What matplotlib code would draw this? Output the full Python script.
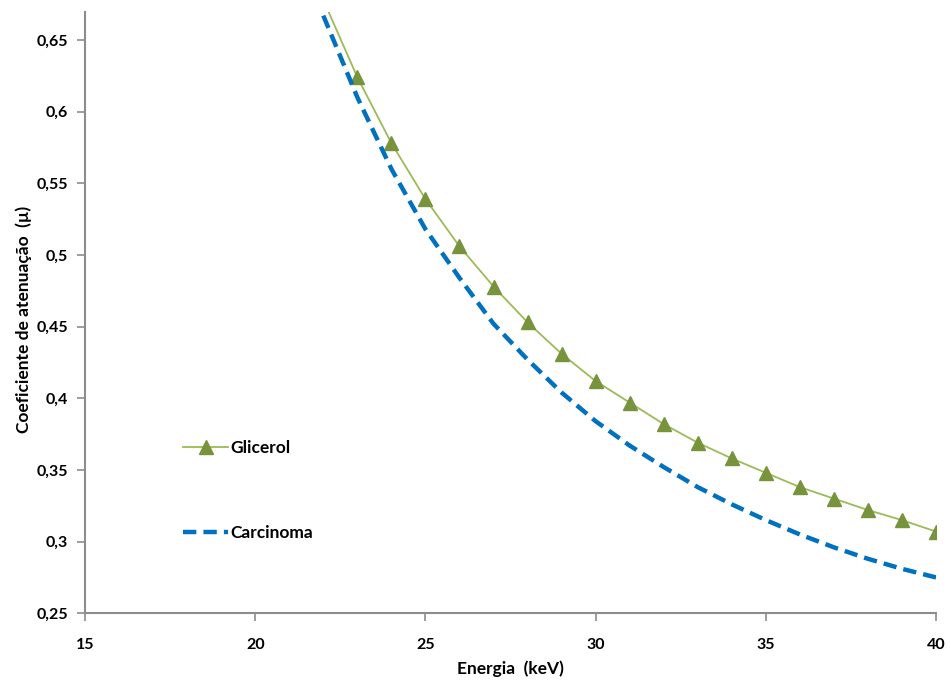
import matplotlib
matplotlib.use("Agg")
import matplotlib.pyplot as plt
from matplotlib.ticker import FuncFormatter

plt.rcParams['font.family'] = ['Lato', 'DejaVu Sans']

# dados
energia_gli = [22, 23, 24, 25, 26, 27, 28, 29, 30, 31, 32, 33, 34, 35, 36, 37, 38, 39, 40]
glicerol = [0.678, 0.624, 0.578, 0.539, 0.506, 0.478, 0.453, 0.431, 0.412, 0.397, 0.382,
            0.369, 0.358, 0.348, 0.338, 0.330, 0.322, 0.315, 0.307]
energia_car = [22, 23, 24, 25, 26, 27, 28, 29, 30, 31, 32, 33, 34, 35, 36, 37, 38, 39, 40]
carcinoma = [0.667, 0.610, 0.560, 0.518, 0.484, 0.452, 0.427, 0.404, 0.384, 0.367, 0.352,
             0.338, 0.326, 0.315, 0.305, 0.296, 0.288, 0.281, 0.275]

xticks = [15, 20, 25, 30, 35, 40]
yticks = [0.25, 0.30, 0.35, 0.40, 0.45, 0.50, 0.55, 0.60, 0.65]

fig = plt.figure(figsize=(9.51, 6.84), dpi=100)
ax = fig.add_axes([0.0894, 0.1034, 0.8949, 0.879])

ax.plot(energia_gli, glicerol, color='#9bbb59', lw=1.3, marker='^', markersize=10,
        markerfacecolor='#77933c', markeredgecolor='#77933c', label='Glicerol')
ax.plot(energia_car, carcinoma, color='#0070c0', lw=3.2, ls=(0, (3, 1.6)), label='Carcinoma')

ax.set_xlim(15, 40)
ax.set_ylim(0.25, 0.6695)
ax.set_xticks(xticks)
ax.set_yticks(yticks)
ax.yaxis.set_major_formatter(FuncFormatter(lambda v, p: ('%g' % round(v, 2)).replace('.', ',')))

for s in ['top', 'right']:
    ax.spines[s].set_visible(False)
for s in ['left', 'bottom']:
    ax.spines[s].set_color('#8c8c8c')
    ax.spines[s].set_linewidth(1.5)
ax.tick_params(color='#8c8c8c', width=1.2, length=6, labelsize=11.5)
for lab in ax.get_xticklabels() + ax.get_yticklabels():
    lab.set_fontweight('bold')
ax.tick_params(axis='x', pad=12)
ax.tick_params(axis='y', pad=6)

ax.set_xlabel('Energia  (keV)', fontsize=12.5, fontweight='bold')
ax.set_ylabel('Coeficiente de atenuação  (µ)', fontsize=12.5, fontweight='bold')
ax.xaxis.set_label_coords(0.5, -0.079)
ax.yaxis.set_label_coords(-0.062, 0.488)

ax.legend(loc='upper left', bbox_to_anchor=(0.105, 0.303), frameon=False,
          labelspacing=4.0, handlelength=2.6, handletextpad=0.1, borderpad=0,
          prop={'weight': 'bold', 'size': 12.5})

plt.savefig('out.png', dpi=100)
